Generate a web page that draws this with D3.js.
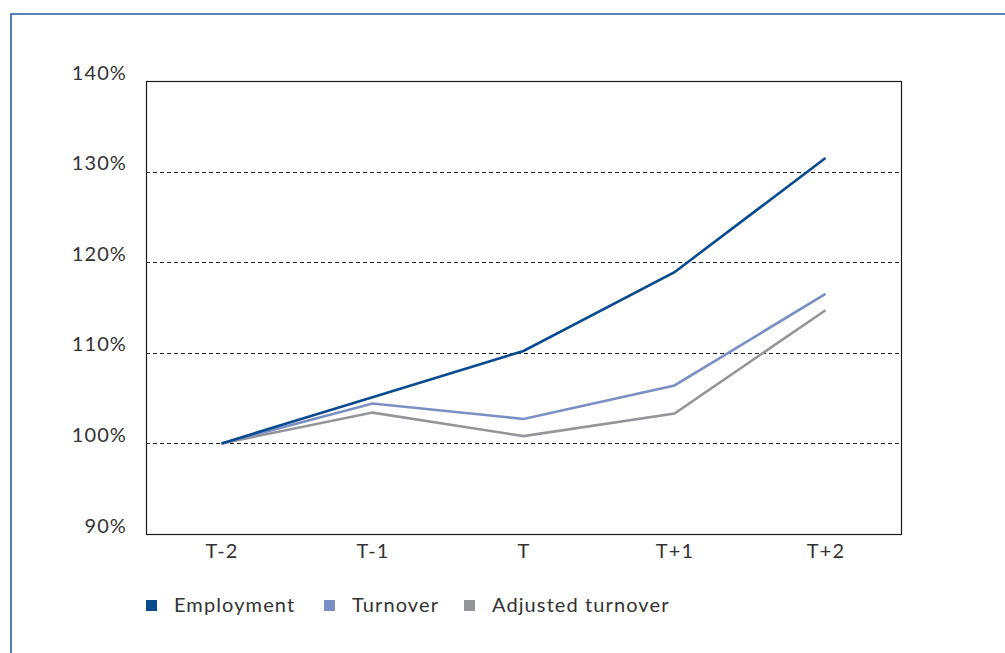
<!DOCTYPE html>
<html>
<head>
<meta charset="utf-8">
<script src="https://cdn.jsdelivr.net/npm/d3@7"></script>
<style>
  html, body { margin: 0; padding: 0; background: #fff; }
  svg { display: block; }
  text { font-family: Lato, "Open Sans", sans-serif; font-weight: 400; letter-spacing: 1.1px; fill: #333; }
</style>
</head>
<body>
<svg id="chart" width="1005" height="653"></svg>
<script>
// Periods relative to the event year T
const periods = ["T-2", "T-1", "T", "T+1", "T+2"];

// Index levels (T-2 = 100%)
const employment = [100, 105.1, 110.2, 118.9, 131.5];
const turnover = [100, 104.4, 102.7, 106.4, 116.5];
const adjustedTurnover = [100, 103.4, 100.8, 103.3, 114.7];

const yTicks = [90, 100, 110, 120, 130, 140];

const seriesNames = ["Employment", "Turnover", "Adjusted turnover"];
const seriesColors = ["#0a4a8f", "#7a8fc3", "#939598"];

const svg = d3.select("#chart");

// outer frame
svg.append("path")
  .attr("d", "M11,660 L11,14 L1010,14")
  .attr("fill", "none")
  .attr("stroke", "#1f5da6")
  .attr("stroke-width", 1.6);

const plot = { left: 146, top: 81, right: 901, bottom: 534 };

const x = d3.scalePoint()
  .domain(periods)
  .range([plot.left, plot.right])
  .padding(0.5);

const y = d3.scaleLinear()
  .domain([90, 140])
  .range([plot.bottom, plot.top]);

// dashed gridlines
svg.append("g")
  .selectAll("line")
  .data(yTicks.filter(d => d > 90 && d < 140))
  .join("line")
  .attr("x1", plot.left)
  .attr("x2", plot.right)
  .attr("y1", d => Math.round(y(d)) + 0.5)
  .attr("y2", d => Math.round(y(d)) + 0.5)
  .attr("stroke", "#222")
  .attr("stroke-width", 1)
  .attr("stroke-dasharray", "4,3");

// plot frame
svg.append("rect")
  .attr("x", plot.left + 0.5)
  .attr("y", plot.top + 0.5)
  .attr("width", plot.right - plot.left)
  .attr("height", plot.bottom - plot.top)
  .attr("fill", "none")
  .attr("stroke", "#1a1a1a")
  .attr("stroke-width", 1.2);

// y axis labels
const yAxis = d3.axisLeft(y)
  .tickValues(yTicks)
  .tickSize(0)
  .tickPadding(19)
  .tickFormat(d => d + "%");
const gy = svg.append("g")
  .attr("transform", `translate(${plot.left},0)`)
  .call(yAxis);
gy.select(".domain").remove();
gy.selectAll("text")
  .attr("font-size", 20)
  .attr("font-family", "Lato, 'Open Sans', sans-serif")
  .attr("fill", "#333")
  .attr("dy", "-0.1em");

// x axis labels
const xAxis = d3.axisBottom(x).tickSize(0).tickPadding(10);
const gx = svg.append("g")
  .attr("transform", `translate(0,${plot.bottom})`)
  .call(xAxis);
gx.select(".domain").remove();
gx.selectAll("text")
  .attr("font-size", 20)
  .attr("font-family", "Lato, 'Open Sans', sans-serif")
  .attr("fill", "#333");

// lines
const line = d3.line()
  .x((d, i) => x(periods[i]))
  .y(d => y(d));

const allSeries = [adjustedTurnover, turnover, employment];
const allColors = [seriesColors[2], seriesColors[1], seriesColors[0]];
svg.append("g")
  .selectAll("path")
  .data(allSeries)
  .join("path")
  .attr("d", line)
  .attr("fill", "none")
  .attr("stroke", (d, i) => allColors[i])
  .attr("stroke-width", 2.6)
  .attr("stroke-linejoin", "miter");

// legend
const legendX = [146, 324, 464];
const legend = svg.append("g");
const items = legend.selectAll("g")
  .data(seriesNames)
  .join("g")
  .attr("transform", (d, i) => `translate(${legendX[i]},600)`);
items.append("rect")
  .attr("width", 11)
  .attr("height", 11)
  .attr("fill", (d, i) => seriesColors[i]);
items.append("text")
  .attr("x", 28)
  .attr("y", 12)
  .attr("font-size", 20)
  .text(d => d);
</script>
</body>
</html>
